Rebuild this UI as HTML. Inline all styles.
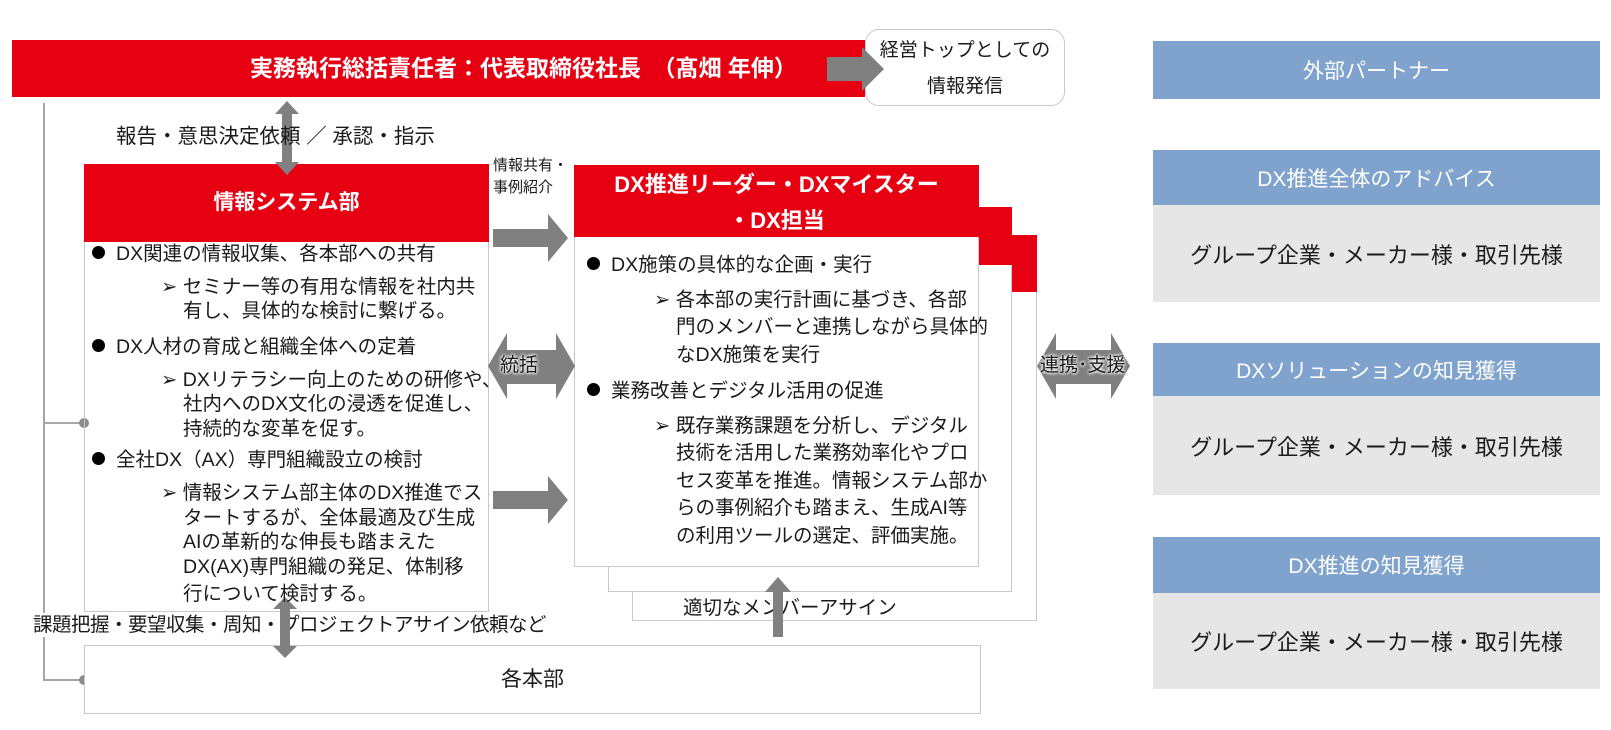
<!DOCTYPE html>
<html><head><meta charset="utf-8"><style>
body{margin:0;width:1611px;height:730px;background:#fff;position:relative;overflow:hidden;font-family:"Liberation Sans","Noto Sans CJK JP",sans-serif;color:#1a1a1a}
.a{position:absolute}
.l{position:absolute;white-space:nowrap;font-size:19.5px;line-height:24px;height:24px;letter-spacing:0}
.b{display:inline-block;width:13px;height:13px;border-radius:50%;background:#000;margin-right:11px;vertical-align:1px}
.red{background:#e60012}
.blue{position:absolute;background:#7fa3cd;color:#fff;font-size:21px;display:flex;align-items:center;justify-content:center;left:1153px;width:447px}
.gray{position:absolute;background:#e6e6e6;font-size:22px;display:flex;align-items:center;justify-content:center;left:1153px;width:447px}
</style></head><body>

<svg class="a" style="left:0;top:0" width="1611" height="730">
<polyline points="44,103 44,680 84,680" fill="none" stroke="#a6a6a6" stroke-width="2"/>
<line x1="44" y1="423" x2="84" y2="423" stroke="#a6a6a6" stroke-width="2"/>
<circle cx="84" cy="423" r="5" fill="#8c8c8c"/>
<circle cx="84" cy="680" r="5" fill="#8c8c8c"/>
</svg>

<div class="a red" style="left:12px;top:40px;width:853px;height:57px;color:#fff;font-weight:bold;font-size:23px;line-height:57px;text-align:center;box-sizing:border-box;padding-left:170px;white-space:nowrap">実務執行総括責任者：代表取締役社長　（髙畑 年伸）</div>
<div class="a" style="left:865px;top:29px;width:200px;height:77px;border:1.5px solid #c8c8c8;border-radius:14px;background:#fff;text-align:center;font-size:19px;line-height:36px;padding-top:3px;box-sizing:border-box">経営トップとしての<br>情報発信</div>

<div class="a red" style="left:84px;top:164px;width:405px;height:78px;color:#fff;font-weight:bold;font-size:21px;line-height:78px;text-align:center">情報システム部</div>
<div class="a" style="left:84px;top:242px;width:403px;height:369px;border:1.5px solid #c8c8c8;border-top:none"></div>

<div class="a red" style="left:632px;top:235px;width:405px;height:57px"></div>
<div class="a" style="left:632px;top:292px;width:403px;height:328px;border:1.5px solid #c8c8c8;border-top:none;background:#fff"></div>
<div class="a red" style="left:608px;top:207px;width:404px;height:58px"></div>
<div class="a" style="left:608px;top:265px;width:402px;height:326px;border:1.5px solid #c8c8c8;border-top:none;background:#fff"></div>
<div class="a red" style="left:574px;top:165px;width:405px;height:72px;color:#fff;font-weight:bold;font-size:22px;text-align:center;line-height:36px;padding-top:2px;box-sizing:border-box">DX推進リーダー・DXマイスター<br>・DX担当</div>
<div class="a" style="left:574px;top:237px;width:403px;height:329px;border:1.5px solid #c8c8c8;border-top:none;background:#fff"></div>

<div class="a" style="left:84px;top:645px;width:895px;height:67px;border:1.5px solid #c8c8c8;font-size:21px;line-height:67px;text-align:center;background:#fff">各本部</div>

<svg class="a" style="left:0;top:0" width="1611" height="730">
<g fill="#808080">
<polygon points="827,57 862,57 862,47 884,69 862,91 862,81 827,81"/>
<polygon points="287,101 299,114 292,114 292,162 299,162 287,175 275,162 282,162 282,114 275,114"/>
<polygon points="493,229 548,229 548,214 568,238 548,262 548,247 493,247"/>
<polygon points="493,491 548,491 548,476 568,500 548,524 548,509 493,509"/>
<polygon points="488,366 507,333 507,350 556,350 556,333 575,366 556,399 556,384 507,384 507,399"/>
<polygon points="1037,366 1056,333 1056,350 1111,350 1111,333 1130,366 1111,399 1111,384 1056,384 1056,399"/>
<polygon points="285,597 297,609 290,609 290,646 297,646 285,658 273,646 280,646 280,609 273,609"/>
<polygon points="778,577 791,592 783,592 783,637 773,637 773,592 765,592"/>
</g>
</svg>

<div class="l" style="left:116px;top:125px;font-size:20.5px">報告・意思決定依頼 ／ 承認・指示</div>
<div class="a" style="left:493px;top:155px;font-size:15px;line-height:22px;white-space:nowrap">情報共有・<br>事例紹介</div>
<div class="a" style="left:500px;top:354px;font-size:19px;line-height:24px;text-shadow:0 0 3px #fff,0 0 3px #fff,0 0 3px #fff">統括</div>
<div class="a" style="left:1040px;top:354px;font-size:19px;line-height:24px;text-shadow:0 0 3px #fff,0 0 3px #fff,0 0 3px #fff;white-space:nowrap">連携･支援</div>
<div class="l" style="left:683px;top:596px">適切なメンバーアサイン</div>
<div class="l" style="left:33px;top:613px;background:#fff;letter-spacing:-0.5px">課題把握・要望収集・周知・プロジェクトアサイン依頼など</div>
<svg class="a" style="left:0;top:0" width="1611" height="730"><rect x="280" y="609" width="10" height="28" fill="#808080"/><rect x="773" y="596" width="10" height="30" fill="#808080"/></svg>

<div class="l" style="left:92px;top:242px"><span class="b"></span>DX関連の情報収集、各本部への共有</div>
<div class="l" style="left:161px;top:275px">➢&nbsp;セミナー等の有用な情報を社内共</div>
<div class="l" style="left:183px;top:299px">有し、具体的な検討に繋げる。</div>
<div class="l" style="left:92px;top:335px"><span class="b"></span>DX人材の育成と組織全体への定着</div>
<div class="l" style="left:161px;top:368px">➢&nbsp;DXリテラシー向上のための研修や、</div>
<div class="l" style="left:183px;top:392px">社内へのDX文化の浸透を促進し、</div>
<div class="l" style="left:183px;top:417px">持続的な変革を促す。</div>
<div class="l" style="left:92px;top:448px"><span class="b"></span>全社DX（AX）専門組織設立の検討</div>
<div class="l" style="left:161px;top:481px">➢&nbsp;情報システム部主体のDX推進でス</div>
<div class="l" style="left:183px;top:506px">タートするが、全体最適及び生成</div>
<div class="l" style="left:183px;top:530px">AIの革新的な伸長も踏まえた</div>
<div class="l" style="left:183px;top:555px">DX(AX)専門組織の発足、体制移</div>
<div class="l" style="left:183px;top:582px">行について検討する。</div>

<div class="l" style="left:587px;top:253px"><span class="b"></span>DX施策の具体的な企画・実行</div>
<div class="l" style="left:654px;top:288px">➢&nbsp;各本部の実行計画に基づき、各部</div>
<div class="l" style="left:676px;top:315px">門のメンバーと連携しながら具体的</div>
<div class="l" style="left:676px;top:343px">なDX施策を実行</div>
<div class="l" style="left:587px;top:379px"><span class="b"></span>業務改善とデジタル活用の促進</div>
<div class="l" style="left:654px;top:414px">➢&nbsp;既存業務課題を分析し、デジタル</div>
<div class="l" style="left:676px;top:441px">技術を活用した業務効率化やプロ</div>
<div class="l" style="left:676px;top:469px">セス変革を推進。情報システム部か</div>
<div class="l" style="left:676px;top:496px">らの事例紹介も踏まえ、生成AI等</div>
<div class="l" style="left:676px;top:524px">の利用ツールの選定、評価実施。</div>

<div class="blue" style="top:41px;height:58px">外部パートナー</div>
<div class="blue" style="top:150px;height:55px">DX推進全体のアドバイス</div>
<div class="gray" style="top:205px;height:97px">グループ企業・メーカー様・取引先様</div>
<div class="blue" style="top:343px;height:53px">DXソリューションの知見獲得</div>
<div class="gray" style="top:396px;height:99px">グループ企業・メーカー様・取引先様</div>
<div class="blue" style="top:537px;height:56px">DX推進の知見獲得</div>
<div class="gray" style="top:593px;height:96px">グループ企業・メーカー様・取引先様</div>
</body></html>
